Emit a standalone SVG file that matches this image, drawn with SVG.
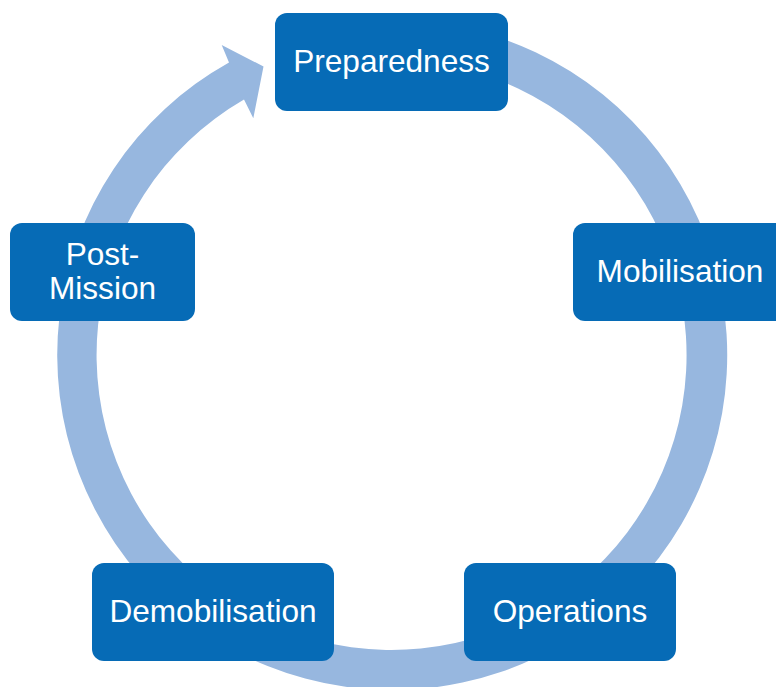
<svg xmlns="http://www.w3.org/2000/svg" width="776" height="687" viewBox="0 0 776 687">
  <style>
    .box { fill: #066BB6; }
    .lbl { fill: #FFFFFF; font-family: "Liberation Sans", Arial, sans-serif; font-size: 31.6px; text-anchor: middle; }
    .ring { fill: #97B7DF; }
  </style>
  <rect width="776" height="687" fill="#FFFFFF"/>
  <g id="connectors">
    <path class="ring" d="M 421.2 21.3 A 335 335 0 1 1 229 62.5 L 221.7 45 L 263.5 66.5 L 253.3 118.3 L 244 99.5 A 295 295 0 1 0 417.7 61.1 Z"/>
  </g>
  <g id="node-preparedness">
    <rect class="box" x="275" y="13" width="233" height="98" rx="12"/>
    <text class="lbl" x="391.5" y="72">Preparedness</text>
  </g>
  <g id="node-mobilisation">
    <rect class="box" x="573" y="223" width="214" height="98" rx="12"/>
    <text class="lbl" x="680" y="282">Mobilisation</text>
  </g>
  <g id="node-operations">
    <rect class="box" x="464" y="563" width="212" height="98" rx="12"/>
    <text class="lbl" x="570" y="622">Operations</text>
  </g>
  <g id="node-demobilisation">
    <rect class="box" x="92" y="563" width="242" height="98" rx="12"/>
    <text class="lbl" x="213" y="622">Demobilisation</text>
  </g>
  <g id="node-post-mission">
    <rect class="box" x="10" y="223" width="185" height="98" rx="12"/>
    <text class="lbl" x="102.5" y="265">Post-</text>
    <text class="lbl" x="102.5" y="299">Mission</text>
  </g>
</svg>
